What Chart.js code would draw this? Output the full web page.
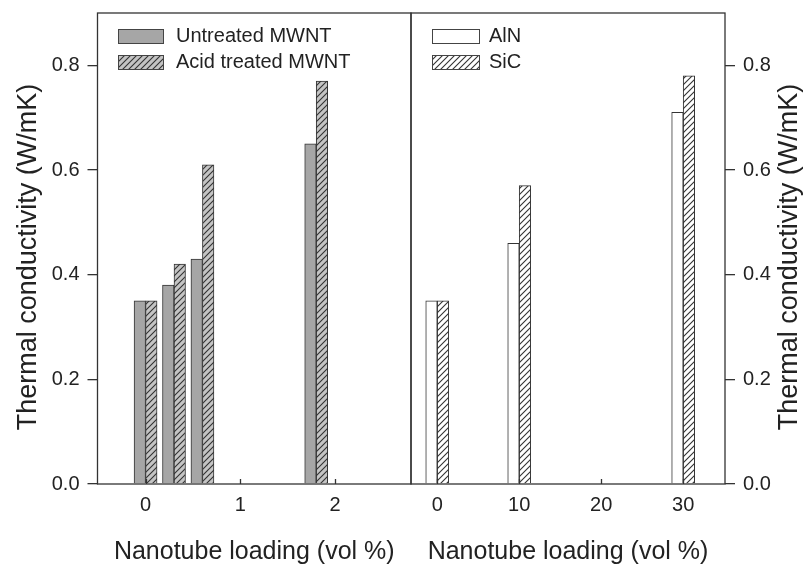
<!DOCTYPE html>
<html>
<head>
<meta charset="utf-8">
<script src="https://cdn.jsdelivr.net/npm/chart.js@4.4.0/dist/chart.umd.min.js"></script>
<style>
  body { margin: 0; background: #fff; }
  #wrap { position: relative; width: 812px; height: 567px; }
  canvas { position: absolute; left: 0; top: 0; }
</style>
</head>
<body>
<div id="wrap">
  <canvas id="leftChart" width="812" height="567"></canvas>
  <canvas id="rightChart" width="812" height="567"></canvas>
</div>
<script>
// left panel: MWNT loading
const mwntLoading = [0, 0.3, 0.6, 1.8];
const untreated = [0.35, 0.38, 0.43, 0.65];
const acidTreated = [0.35, 0.42, 0.61, 0.77];

// right panel: filler loading
const fillerLoading = [0, 10, 30];
const aln = [0.35, 0.46, 0.71];
const sic = [0.35, 0.57, 0.78];

const leftXTicks = [0, 1, 2];
const rightXTicks = [0, 10, 20, 30];
const yTicks = [0, 0.2, 0.4, 0.6, 0.8];

const FONT = "'Liberation Sans', Arial, sans-serif";
const INK = "#222";
const LINE = "#333";

function hatch(ctx, bg) {
  const c = document.createElement("canvas");
  c.width = 6; c.height = 6;
  const g = c.getContext("2d");
  g.fillStyle = bg;
  g.fillRect(0, 0, 6, 6);
  g.strokeStyle = "#333";
  g.lineWidth = 1.1;
  g.beginPath();
  g.moveTo(-1, 7); g.lineTo(7, -1);
  g.moveTo(-1, 1); g.lineTo(1, -1);
  g.moveTo(5, 7); g.lineTo(7, 5);
  g.stroke();
  return ctx.createPattern(c, "repeat");
}

const panelPlugin = {
  id: "panel",
  afterDraw(chart, args, opts) {
    const { ctx, chartArea: a, scales } = chart;
    ctx.save();
    // frame
    ctx.strokeStyle = LINE;
    ctx.lineWidth = 1.3;
    ctx.strokeRect(a.left, a.top, a.right - a.left, a.bottom - a.top);
    // inward x ticks
    ctx.beginPath();
    scales.x.ticks.forEach(t => {
      const px = Math.round(scales.x.getPixelForValue(t.value)) + 0.5;
      ctx.moveTo(px, a.bottom);
      ctx.lineTo(px, a.bottom - 5);
    });
    ctx.stroke();
    // legend
    ctx.font = "20px " + FONT;
    ctx.textBaseline = "middle";
    ctx.textAlign = "left";
    chart.data.datasets.forEach((ds, i) => {
      const y = opts.legendTop + i * 26;
      ctx.fillStyle = ds.backgroundColor;
      ctx.fillRect(opts.legendX, y, opts.boxW, 14);
      ctx.lineWidth = 1;
      ctx.strokeStyle = "#444";
      ctx.strokeRect(opts.legendX + 0.5, y + 0.5, opts.boxW, 14);
      ctx.fillStyle = INK;
      ctx.fillText(ds.label, opts.textX, y + 7.5);
    });
    // y axis title, reading bottom to top
    ctx.translate(opts.titleX, 257);
    ctx.rotate(-Math.PI / 2);
    ctx.font = "27px " + FONT;
    ctx.textAlign = "center";
    ctx.fillStyle = INK;
    ctx.fillText("Thermal conductivity (W/mK)", 0, 0);
    ctx.restore();
  }
};

function makeOptions(xMin, xMax, xTicks, yPos, yWidth, padding, panel) {
  return {
    responsive: false,
    animation: false,
    devicePixelRatio: 1,
    layout: { padding: padding },
    plugins: {
      legend: { display: false },
      tooltip: { enabled: false },
      panel: panel
    },
    scales: {
      x: {
        type: "linear",
        min: xMin,
        max: xMax,
        offset: false,
        afterBuildTicks: s => { s.ticks = xTicks.map(v => ({ value: v })); },
        afterFit: s => { s.height = 83; s.paddingLeft = 0; s.paddingRight = 0; },
        grid: { display: false, drawTicks: false },
        border: { display: false },
        ticks: { padding: 9, color: INK, font: { family: FONT, size: 20 }, callback: v => String(v) },
        title: { display: true, text: "Nanotube loading (vol %)", color: INK,
                 font: { family: FONT, size: 25 }, padding: 0 }
      },
      y: {
        position: yPos,
        min: 0,
        max: 0.9,
        afterBuildTicks: s => { s.ticks = yTicks.map(v => ({ value: v })); },
        afterFit: s => { s.width = yWidth; s.paddingTop = 0; s.paddingBottom = 0; },
        grid: { drawOnChartArea: false, tickLength: 10, color: LINE, lineWidth: 1.3 },
        border: { display: false },
        ticks: { padding: 8, color: INK, font: { family: FONT, size: 20 }, callback: v => v.toFixed(1) }
      }
    }
  };
}

const leftCtx = document.getElementById("leftChart").getContext("2d");
new Chart(leftCtx, {
  type: "bar",
  data: {
    datasets: [
      {
        label: "Untreated MWNT",
        data: mwntLoading.map((x, i) => ({ x: x, y: untreated[i] })),
        backgroundColor: "#a6a6a6",
        borderColor: LINE,
        borderWidth: 1,
        barThickness: 11.5
      },
      {
        label: "Acid treated MWNT",
        data: mwntLoading.map((x, i) => ({ x: x, y: acidTreated[i] })),
        backgroundColor: hatch(leftCtx, "#c4c4c4"),
        borderColor: LINE,
        borderWidth: 1,
        barThickness: 11.5
      }
    ]
  },
  options: makeOptions(-0.507, 2.8, leftXTicks, "left", 97.5,
    { left: 0, right: 401, top: 13, bottom: 0 },
    { legendX: 118, legendTop: 29, boxW: 45, textX: 176, titleX: 29 }),
  plugins: [panelPlugin]
});

const rightCtx = document.getElementById("rightChart").getContext("2d");
new Chart(rightCtx, {
  type: "bar",
  data: {
    datasets: [
      {
        label: "AlN",
        data: fillerLoading.map((x, i) => ({ x: x, y: aln[i] })),
        backgroundColor: "#ffffff",
        borderColor: LINE,
        borderWidth: 1,
        barThickness: 11.5
      },
      {
        label: "SiC",
        data: fillerLoading.map((x, i) => ({ x: x, y: sic[i] })),
        backgroundColor: hatch(rightCtx, "#ffffff"),
        borderColor: LINE,
        borderWidth: 1,
        barThickness: 11.5
      }
    ]
  },
  options: makeOptions(-3.2, 35.1, rightXTicks, "right", 87,
    { left: 411, right: 0, top: 13, bottom: 0 },
    { legendX: 432, legendTop: 29, boxW: 47, textX: 489, titleX: 790 }),
  plugins: [panelPlugin]
});
</script>
</body>
</html>
